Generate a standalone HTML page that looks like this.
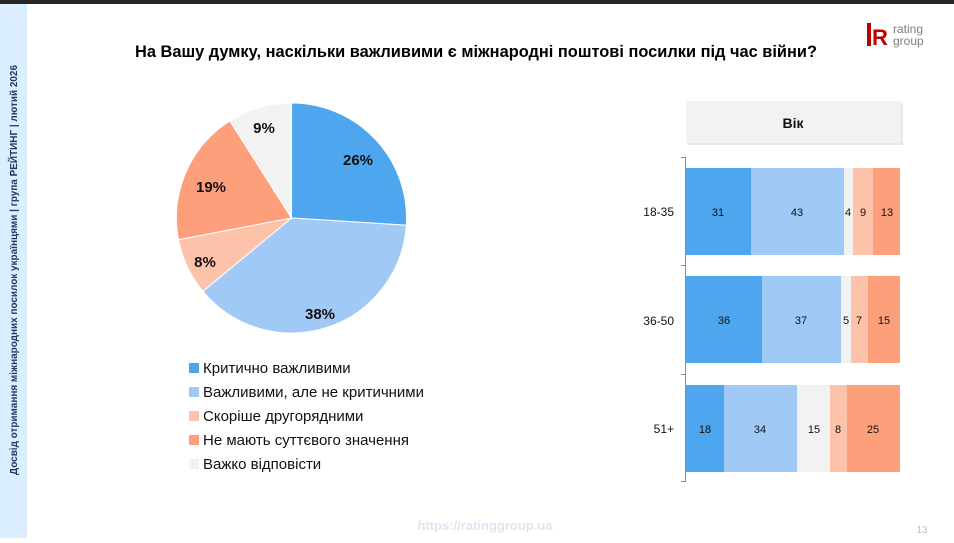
<!DOCTYPE html>
<html><head><meta charset="utf-8"><style>
body{margin:0;width:954px;height:538px;overflow:hidden;background:#fff;font-family:"Liberation Sans",sans-serif}
</style></head><body>
<svg width="954" height="538" xmlns="http://www.w3.org/2000/svg" font-family="Liberation Sans, sans-serif">
<rect x="0" y="0" width="954" height="4" fill="#262626"/>
<rect x="0" y="4" width="27" height="534" fill="#dbeeff"/>
<text transform="translate(17,270) rotate(-90)" text-anchor="middle" font-size="10" font-weight="bold" fill="#1f3864" textLength="410" lengthAdjust="spacingAndGlyphs">Досвід отримання міжнародних посилок українцями  |  група РЕЙТИНГ  |  лютий 2026</text>
<text x="476" y="57" text-anchor="middle" font-size="17" font-weight="bold" fill="#000" textLength="682" lengthAdjust="spacingAndGlyphs">На Вашу думку, наскільки важливими є міжнародні поштові посилки під час війни?</text>
<!-- logo -->
<rect x="867" y="23" width="4" height="23" fill="#c00000"/>
<text x="872" y="45" font-size="22" font-weight="bold" fill="#c00000">R</text>
<text x="893" y="33" font-size="12" fill="#7f7f7f">rating</text>
<text x="893" y="45" font-size="12" fill="#7f7f7f">group</text>
<!-- pie -->
<g stroke="#fff" stroke-width="1">
<path d="M291.5,218 L291.5,103 A115,115 0 0 1 406.3,225.2 Z" fill="#4da6ee"/>
<path d="M291.5,218 L406.3,225.2 A115,115 0 0 1 202.9,291.3 Z" fill="#a0c9f6"/>
<path d="M291.5,218 L202.9,291.3 A115,115 0 0 1 178.5,239.6 Z" fill="#fdc2aa"/>
<path d="M291.5,218 L178.5,239.6 A115,115 0 0 1 229.9,120.9 Z" fill="#fe9f7c"/>
<path d="M291.5,218 L229.9,120.9 A115,115 0 0 1 291.5,103 Z" fill="#f2f2f2"/>
</g>
<g font-size="15" font-weight="bold" fill="#111" text-anchor="middle">
<text x="358" y="165">26%</text><text x="320" y="319">38%</text><text x="205" y="267">8%</text><text x="211" y="192">19%</text><text x="264" y="133">9%</text>
</g>
<!-- legend -->
<g font-size="15" fill="#111">
<rect x="189" y="363" width="10" height="10" fill="#4da6ee"/><text x="203" y="373">Критично важливими</text>
<rect x="189" y="387" width="10" height="10" fill="#a0c9f6"/><text x="203" y="397">Важливими, але не критичними</text>
<rect x="189" y="411" width="10" height="10" fill="#fdc2aa"/><text x="203" y="421">Скоріше другорядними</text>
<rect x="189" y="435" width="10" height="10" fill="#fe9f7c"/><text x="203" y="445">Не мають суттєвого значення</text>
<rect x="189" y="459" width="10" height="10" fill="#f2f2f2"/><text x="203" y="469">Важко відповісти</text>
</g>
<!-- Vik header -->
<rect x="688" y="103" width="215" height="42" fill="#d9d9d9" opacity="0.6"/>
<rect x="686" y="101" width="215" height="42" fill="#f2f2f2"/>
<text x="793" y="128" text-anchor="middle" font-size="14" font-weight="bold" fill="#111">Вік</text>
<!-- axis -->
<g stroke="#8c8c8c" stroke-width="1" fill="none">
<path d="M685.5,157 V482 M681,157.5 H686 M681,265.5 H686 M681,374.5 H686 M681,481.5 H686"/>
</g>
<g font-size="12" fill="#111" text-anchor="end">
<text x="674" y="216">18-35</text><text x="674" y="325">36-50</text><text x="674" y="433">51+</text>
</g>
<!-- bars -->
<g>
<rect x="686" y="168" width="65" height="87" fill="#4da6ee"/>
<rect x="751" y="168" width="93" height="87" fill="#a0c9f6"/>
<rect x="844" y="168" width="9" height="87" fill="#f2f2f2"/>
<rect x="853" y="168" width="20" height="87" fill="#fdc2aa"/>
<rect x="873" y="168" width="27" height="87" fill="#fe9f7c"/>
<rect x="686" y="276" width="76" height="87" fill="#4da6ee"/>
<rect x="762" y="276" width="79" height="87" fill="#a0c9f6"/>
<rect x="841" y="276" width="10" height="87" fill="#f2f2f2"/>
<rect x="851" y="276" width="17" height="87" fill="#fdc2aa"/>
<rect x="868" y="276" width="32" height="87" fill="#fe9f7c"/>
<rect x="686" y="385" width="38" height="87" fill="#4da6ee"/>
<rect x="724" y="385" width="73" height="87" fill="#a0c9f6"/>
<rect x="797" y="385" width="33" height="87" fill="#f2f2f2"/>
<rect x="830" y="385" width="17" height="87" fill="#fdc2aa"/>
<rect x="847" y="385" width="53" height="87" fill="#fe9f7c"/>
</g>
<g font-size="11" fill="#111" text-anchor="middle">
<text x="718" y="216">31</text><text x="797" y="216">43</text><text x="848" y="216">4</text><text x="863" y="216">9</text><text x="887" y="216">13</text>
<text x="724" y="324">36</text><text x="801" y="324">37</text><text x="846" y="324">5</text><text x="859" y="324">7</text><text x="884" y="324">15</text>
<text x="705" y="433">18</text><text x="760" y="433">34</text><text x="814" y="433">15</text><text x="838" y="433">8</text><text x="873" y="433">25</text>
</g>
<text x="485" y="530" text-anchor="middle" font-size="13" font-weight="bold" fill="#dce6f2">https://ratinggroup.ua</text>
<text x="922" y="533" text-anchor="middle" font-size="10" fill="#bfbfbf">13</text>
</svg>
</body></html>
